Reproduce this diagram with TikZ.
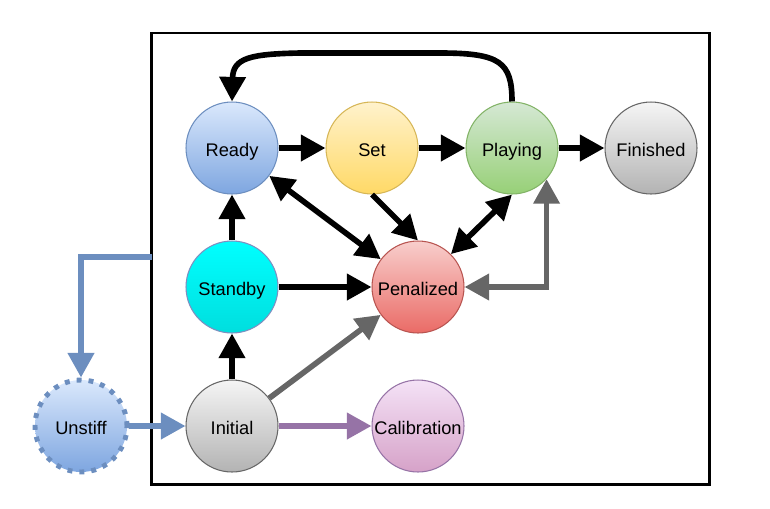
\documentclass[tikz,border=0pt]{standalone}
\usepackage{fontspec}
\setmainfont{Liberation Sans}
\usetikzlibrary{arrows.meta}
\definecolor{readyT}{HTML}{DAE8FC}
\definecolor{readyB}{HTML}{7EA6E0}
\definecolor{readyD}{HTML}{6C8EBF}
\definecolor{setT}{HTML}{FFF2CC}
\definecolor{setB}{HTML}{FFD966}
\definecolor{setD}{HTML}{D6B656}
\definecolor{playT}{HTML}{D5E8D4}
\definecolor{playB}{HTML}{97D077}
\definecolor{playD}{HTML}{82B366}
\definecolor{greyT}{HTML}{F5F5F5}
\definecolor{greyB}{HTML}{B3B3B3}
\definecolor{greyD}{HTML}{666666}
\definecolor{penT}{HTML}{F8CECC}
\definecolor{penB}{HTML}{EA6B66}
\definecolor{penD}{HTML}{B85450}
\definecolor{calT}{HTML}{F4E2F6}
\definecolor{calB}{HTML}{D6A2C8}
\definecolor{calD}{HTML}{9673A6}
\definecolor{stbT}{HTML}{00FFFF}
\definecolor{stbB}{HTML}{00DEDE}
\definecolor{stbD}{HTML}{7E8FC0}

\begin{document}
\begin{tikzpicture}[x=0.02cm,y=-0.02cm,
    state/.style={circle,draw,line width=0.6pt,minimum size=1.84cm,inner sep=0pt,
      text height=1.1em,text depth=0.1em,font=\fontsize{10.4}{12}\selectfont},
    arr/.style={line width=3.2pt,-{Triangle[length=14pt,width=14.5pt]}},
    darr/.style={line width=3.2pt,{Triangle[length=14pt,width=14.5pt]}-{Triangle[length=14pt,width=14.5pt]}}]
  \useasboundingbox (0,0) rectangle (770,508);
  \draw[line width=1.7pt] (151.5,33) rectangle (709.5,484.5);
  % States inside the frame
  \node[state,draw=readyD,top color=readyT,bottom color=readyB]   (Ready)       at (232,148) {Ready};
  \node[state,draw=setD,top color=setT,bottom color=setB]         (Set)         at (372,148) {Set};
  \node[state,draw=playD,top color=playT,bottom color=playB]      (Playing)     at (512,148) {Playing};
  \node[state,draw=greyD,top color=greyT,bottom color=greyB]      (Finished)    at (651,148) {Finished};
  \node[state,draw=stbD,top color=stbT,bottom color=stbB]         (Standby)     at (232,287) {Standby};
  \node[state,draw=penD,top color=penT,bottom color=penB]         (Penalized)   at (418,287) {Penalized};
  \node[state,draw=greyD,top color=greyT,bottom color=greyB]      (Initial)     at (232,426) {Initial};
  \node[state,draw=calD,top color=calT,bottom color=calB]         (Calibration) at (418,426) {Calibration};
  % State outside the frame
  \node[state,draw=readyD,top color=readyT,bottom color=readyB,line width=2.8pt,
        dash pattern=on 2.8pt off 4pt] (Unstiff) at (81,426) {Unstiff};
  \coordinate (frameL) at (151.5,257);
  % Black transitions
  \draw[arr] (Ready) -- (Set);
  \draw[arr] (Set) -- (Playing);
  \draw[arr] (Playing) -- (Finished);
  \draw[arr] (Initial) -- (Standby);
  \draw[arr] (Standby) -- (Ready);
  \draw[arr] (Standby) -- (Penalized);
  \draw[arr] (Set.south) -- (Penalized.north);
  \draw[darr] (Ready) -- (Penalized);
  \draw[darr] (Penalized.north east) -- (Playing.south);
  \draw[arr] (Playing.north) .. controls (512,62) and (500,53) .. (440,53)
        -- (300,53) .. controls (250,54) and (233,58) .. (Ready.north);
  % Coloured transitions
  \draw[darr,greyD] (Penalized.east) -| (Playing.-42);
  \draw[arr,greyD] (Initial) -- (Penalized);
  \draw[arr,calD] (Initial) -- (Calibration);
  \draw[arr,readyD] (Unstiff) -- (Initial);
  \draw[arr,readyD] (frameL) -| (Unstiff.north);
\end{tikzpicture}
\end{document}
